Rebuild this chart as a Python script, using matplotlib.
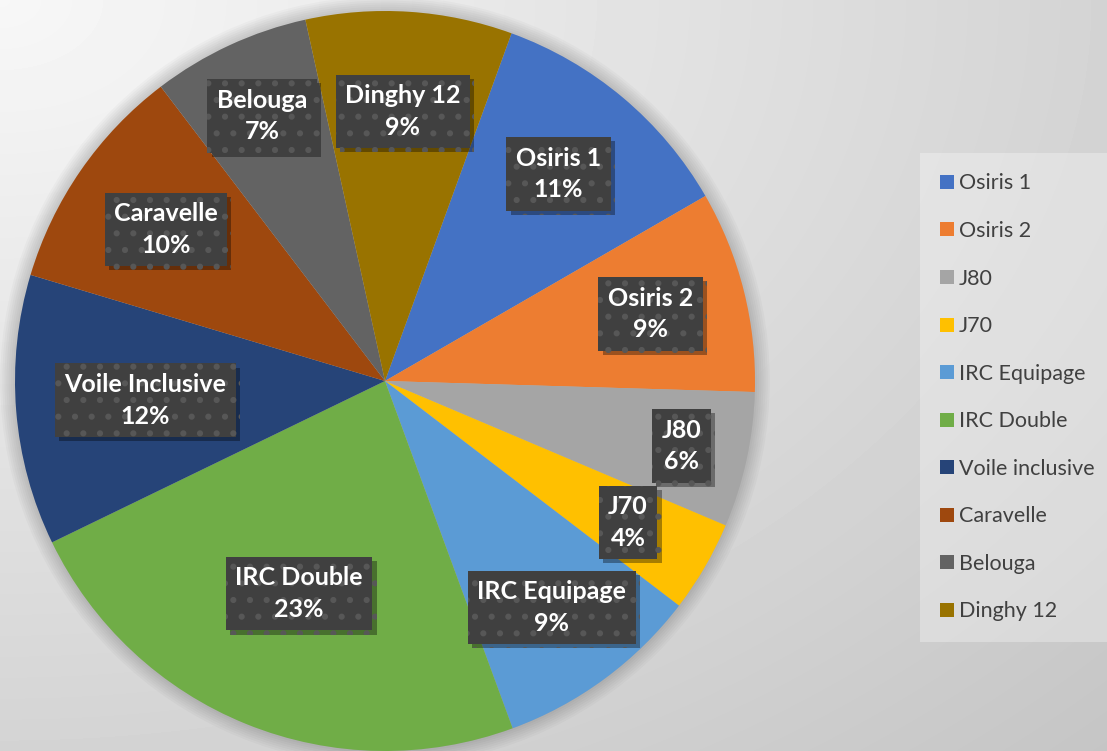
import numpy as np
import matplotlib
matplotlib.use('Agg')
import matplotlib.pyplot as plt
from matplotlib.lines import Line2D
from matplotlib.patches import Circle
import matplotlib.patheffects as pe

# ---- data ----
categories = ['Osiris 1', 'Osiris 2', 'J80', 'J70', 'IRC Equipage', 'IRC Double',
              'Voile inclusive', 'Caravelle', 'Belouga', 'Dinghy 12']
label_names = ['Osiris 1', 'Osiris 2', 'J80', 'J70', 'IRC Equipage', 'IRC Double',
               'Voile Inclusive', 'Caravelle', 'Belouga', 'Dinghy 12']
values = [11.1, 8.8, 5.9, 4.0, 9.0, 23.4, 11.8, 10.0, 6.9, 9.0]

# ---- style ----
colors = ['#4472C4', '#ED7D31', '#A5A5A5', '#FFC000', '#5B9BD5', '#70AD47',
          '#264478', '#9E480E', '#636363', '#997300']
label_radius = [0.73, 0.74, 0.82, 0.76, 0.76, 0.62, 0.65, 0.72, 0.79, 0.73]

plt.rcParams['font.family'] = ['Lato', 'DejaVu Sans']
plt.rcParams['hatch.color'] = '#5a5a5a'
plt.rcParams['hatch.linewidth'] = 2.0

W, H = 1107, 751
fig = plt.figure(figsize=(W / 100, H / 100), dpi=100)

# background gradient
bg = fig.add_axes([0, 0, 1, 1])
bg.set_axis_off()
yy, xx = np.mgrid[0:H, 0:W]
d = np.sqrt((xx / W) ** 2 + (yy / H) ** 2)
img = 0.97 - 0.14 * d
bg.imshow(img, cmap='gray', vmin=0, vmax=1, extent=[0, 1, 0, 1],
          aspect='auto', origin='upper', interpolation='bilinear')

# pie axes
cx, cy, r = 385, 381, 370
ax = fig.add_axes([(cx - r) / W, (H - cy - r) / H, 2 * r / W, 2 * r / H])
ax.set_axis_off()
ax.patch.set_alpha(0)

# soft shadow around the pie
for rr in np.linspace(1.0, 1.04, 8):
    ax.add_patch(Circle((0, 0), rr, facecolor='black', alpha=0.022,
                        linewidth=0, zorder=0, clip_on=False))

wedges, _ = ax.pie(values, colors=colors, startangle=70, counterclock=False,
                   radius=1, wedgeprops=dict(linewidth=0))
for w in wedges:
    w.set_clip_on(False)
ax.set_xlim(-1, 1)
ax.set_ylim(-1, 1)
ax.set_aspect('equal')

total = sum(values)
for w, name, val, rl in zip(wedges, label_names, values, label_radius):
    ang = np.deg2rad((w.theta1 + w.theta2) / 2)
    x, y = rl * np.cos(ang), rl * np.sin(ang)
    pct = f"{val / total * 100:.0f}%"
    t = ax.text(x, y, f"{name}\n{pct}", ha='center', va='center', color='white',
                fontsize=18, fontweight='bold', linespacing=1.45, zorder=5,
                bbox=dict(boxstyle='square,pad=0.38', facecolor='#404040',
                          edgecolor='#575757', linewidth=0, hatch='.'))
    t.get_bbox_patch().set_path_effects(
        [pe.withSimplePatchShadow(offset=(3, -3), shadow_rgbFace='black', alpha=0.35)])

# legend
handles = [Line2D([], [], marker='s', linestyle='none', markersize=10.5,
                  markerfacecolor=c, markeredgewidth=0) for c in colors]
leg = fig.legend(handles, categories, loc='upper left',
                 bbox_to_anchor=(926 / W, 1 - 159 / H), frameon=True, fontsize=15.5,
                 labelspacing=1.28, handlelength=0.65, handletextpad=0.19,
                 borderpad=0.67, borderaxespad=0, labelcolor='#404040')
frame = leg.get_frame()
frame.set_facecolor('white')
frame.set_alpha(0.3)
frame.set_edgecolor('none')
frame.set_boxstyle('square')

fig.savefig('out.png', dpi=100)
